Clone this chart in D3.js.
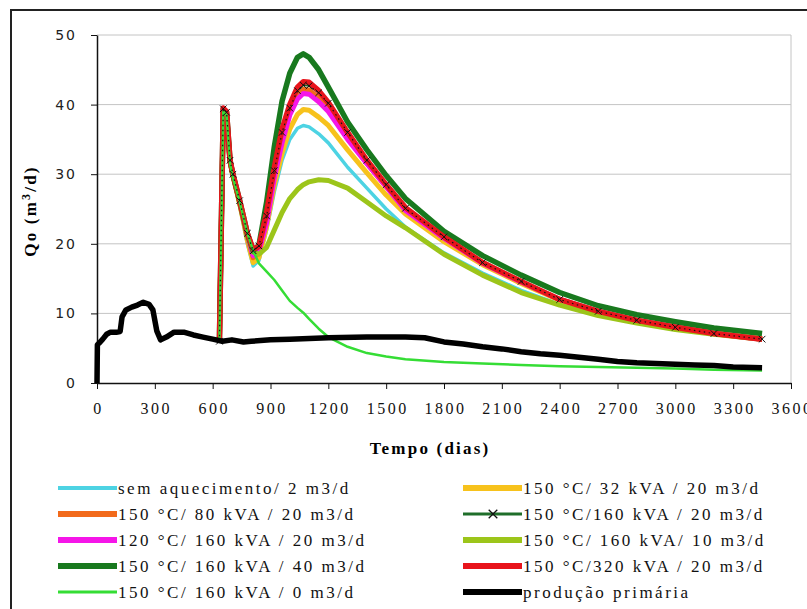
<!DOCTYPE html>
<html>
<head>
<meta charset="utf-8">
<script src="https://cdn.jsdelivr.net/npm/d3@7"></script>
<style>
  body { margin: 0; background: #fff; }
  svg { display: block; }
</style>
</head>
<body>
<svg id="chart" width="807" height="609"></svg>
<script>
// days for the primary production curve
const primaryDays = [0, 2, 10, 30, 50, 70, 100, 120, 130, 150, 180, 210, 240, 270, 290, 310, 330, 360, 400, 450,
  500, 550, 600, 650, 700, 760, 800, 900, 1000, 1100, 1200, 1400, 1600, 1700, 1800, 1900, 2000, 2100, 2200, 2300,
  2400, 2500, 2600, 2700, 2800, 2900, 3000, 3100, 3200, 3300, 3450];
const primaryValues = [0, 5.5, 5.7, 6.3, 7.0, 7.3, 7.3, 7.4, 9.5, 10.5, 10.9, 11.2, 11.6, 11.3, 10.5, 7.5, 6.2, 6.6, 7.3, 7.3,
  6.9, 6.6, 6.3, 6.0, 6.2, 5.9, 6.0, 6.2, 6.3, 6.4, 6.5, 6.6, 6.6, 6.5, 5.9, 5.6, 5.2, 4.9, 4.5, 4.2,
  4.0, 3.7, 3.4, 3.1, 2.9, 2.8, 2.7, 2.6, 2.5, 2.3, 2.2];

// days for the heated cases (start of heating at ~640 d)
const heatDays = [635, 655, 672, 690, 705, 740, 780, 810, 840, 880,
  920, 960, 1000, 1040, 1070, 1100, 1150, 1200, 1300, 1400,
  1500, 1600, 1800, 2000, 2200, 2400, 2600, 2800, 3000, 3200, 3450];

const semAquecimento = [6, 39, 38.5, 31.5, 29.5, 25.5, 20, 16.8, 17.6, 22,
  27.5, 32, 35, 36.6, 37, 36.8, 35.8, 34.5, 31, 28,
  25, 22.4, 18.7, 15.8, 13.3, 11.3, 9.8, 8.7, 7.8, 7, 6.3];
const kva32 = [6, 39.2, 38.7, 31.8, 29.8, 25.8, 20.5, 17.3, 18, 22.5,
  28.5, 33, 36.5, 38.6, 39.3, 39.2, 38.2, 37, 33.5, 30.2,
  27, 24.3, 20.3, 17, 14.3, 11.9, 10.2, 9, 8, 7.2, 6.4];
const kva80 = [6, 39.4, 38.9, 32, 30, 26, 21, 18, 18.8, 23.5,
  30, 35, 39, 41.5, 42.2, 42.1, 41, 39.5, 35.5, 31.6,
  28.2, 25, 20.8, 17.3, 14.5, 12, 10.3, 9, 8, 7.1, 6.3];
const kva160 = [6, 39.4, 38.9, 32, 30, 26.2, 21.5, 19, 19.7, 24,
  30.5, 36, 39.5, 42, 42.8, 42.7, 41.7, 40.2, 36, 32,
  28.5, 25.1, 21, 17.3, 14.6, 12, 10.3, 9, 8, 7.1, 6.3];
const t120 = [6, 39.3, 38.8, 32, 30, 26, 21, 18.3, 19, 23,
  29.5, 34.5, 38.5, 40.8, 41.6, 41.5, 40.4, 39, 35, 31.5,
  28.2, 24.8, 20.8, 17.2, 14.5, 12, 10.3, 9, 8, 7.1, 6.3];
const vazao10 = [6, 39, 38.5, 31.8, 29.8, 25.8, 21, 18.8, 18.5, 19.5,
  22, 24.5, 26.5, 27.8, 28.5, 28.9, 29.2, 29.1, 28, 26,
  24, 22.3, 18.5, 15.5, 13, 11.2, 9.7, 8.6, 7.7, 7, 6.3];
const vazao40 = [6, 39.4, 38.9, 32, 30, 26.2, 21.5, 19, 19.8, 26,
  34, 40.5, 44.5, 46.8, 47.3, 46.8, 45, 42.5, 37.5, 33.5,
  29.8, 26.5, 21.8, 18.3, 15.5, 13, 11.1, 9.8, 8.8, 7.9, 7.1];
const kva320 = [6, 39.5, 39, 32, 30, 26.2, 21.5, 19.2, 19.6, 24.5,
  31, 36.5, 40, 42.5, 43.3, 43.2, 42, 40.3, 36, 32,
  28.5, 25.2, 21, 17.3, 14.6, 12, 10.3, 9, 8, 7.1, 6.3];
const vazao0 = [6, 39, 38.5, 31.5, 29.5, 26, 21.5, 19, 17.2, 16,
  14.8, 13.3, 11.8, 10.8, 10.1, 9.2, 7.8, 6.6, 5.2, 4.3,
  3.8, 3.4, 3, 2.8, 2.6, 2.4, 2.3, 2.2, 2.1, 1.9, 1.8];

const xTicks = d3.range(0, 3601, 300);
const yTicks = [0, 10, 20, 30, 40, 50];

// series in legend order (row by row, left then right)
const series = [
  {name: 'sem aquecimento/ 2 m3/d', days: heatDays, values: semAquecimento, color: '#4dd3e3', width: 3.5, lw: 4},
  {name: '150 °C/ 32 kVA / 20 m3/d', days: heatDays, values: kva32, color: '#f7c21c', width: 5, lw: 6},
  {name: '150 °C/ 80 kVA / 20 m3/d', days: heatDays, values: kva80, color: '#f26a1b', width: 5, lw: 6},
  {name: '150 °C/160 kVA / 20 m3/d', days: heatDays, values: kva160, color: '#1f6e2a', width: 2, lw: 3, marker: true},
  {name: '120 °C/ 160 kVA / 20 m3/d', days: heatDays, values: t120, color: '#f516e8', width: 5, lw: 6},
  {name: '150 °C/ 160 kVA/ 10 m3/d', days: heatDays, values: vazao10, color: '#9cc51a', width: 5, lw: 6},
  {name: '150 °C/ 160 kVA / 40 m3/d', days: heatDays, values: vazao40, color: '#18791e', width: 5.5, lw: 6},
  {name: '150 °C/320 kVA / 20 m3/d', days: heatDays, values: kva320, color: '#e8141b', width: 5.5, lw: 6},
  {name: '150 °C/ 160 kVA / 0 m3/d', days: heatDays, values: vazao0, color: '#35dd35', width: 2.5, lw: 3},
  {name: 'produção primária', days: primaryDays, values: primaryValues, color: '#000', width: 5.5, lw: 6}
];

const serif = '"Liberation Serif", "Times New Roman", serif';

const svg = d3.select('#chart');

const x = d3.scaleLinear().domain([0, 3600]).range([97, 791]);
const y = d3.scaleLinear().domain([0, 50]).range([383, 35]);

// outer chart frame
svg.append('rect')
    .attr('x', 11).attr('y', 10)
    .attr('width', 830).attr('height', 640)
    .attr('fill', 'none')
    .attr('stroke', '#222')
    .attr('stroke-width', 2);

// plot area grid + right border
svg.append('g')
  .selectAll('line')
  .data(yTicks.slice(1))
  .join('line')
    .attr('x1', x(0)).attr('x2', x(3600))
    .attr('y1', d => y(d)).attr('y2', d => y(d))
    .attr('stroke', '#c4c4c4');

svg.append('line')
    .attr('x1', x(3600)).attr('x2', x(3600))
    .attr('y1', y(50)).attr('y2', y(0))
    .attr('stroke', '#c4c4c4');

// axes
const xAxis = svg.append('g')
    .attr('transform', `translate(0,${y(0)})`)
    .call(d3.axisBottom(x).tickValues(xTicks).tickFormat(d3.format('d'))
      .tickSize(6).tickSizeOuter(0).tickPadding(14));

const yAxis = svg.append('g')
    .attr('transform', `translate(${x(0)},0)`)
    .call(d3.axisLeft(y).tickValues(yTicks).tickSize(6).tickSizeOuter(0).tickPadding(14));

[xAxis, yAxis].forEach(g => {
  g.select('.domain').attr('stroke', '#111').attr('stroke-width', 1.5);
  g.selectAll('.tick line').attr('stroke', '#111');
});

xAxis.selectAll('.tick text')
    .attr('font-family', serif)
    .attr('font-size', 16)
    .attr('letter-spacing', 2.5)
    .attr('dx', 1)
    .attr('fill', '#111');

yAxis.selectAll('.tick text')
    .attr('font-family', 'DejaVu Sans, sans-serif')
    .attr('font-size', 14)
    .attr('letter-spacing', 2)
    .attr('fill', '#222');

// axis titles
svg.append('text')
    .attr('x', 430).attr('y', 454)
    .attr('text-anchor', 'middle')
    .attr('font-family', serif)
    .attr('font-weight', 'bold')
    .attr('font-size', 17)
    .attr('letter-spacing', 2.2)
    .text('Tempo (dias)');

const yTitle = svg.append('text')
    .attr('transform', 'translate(36,211) rotate(-90)')
    .attr('text-anchor', 'middle')
    .attr('font-family', serif)
    .attr('font-weight', 'bold')
    .attr('font-size', 17)
    .attr('letter-spacing', 2.2);
yTitle.append('tspan').text('Qo (m');
yTitle.append('tspan').attr('dy', -6).attr('font-size', 12).text('3');
yTitle.append('tspan').attr('dy', 6).text('/d)');

// lines
const line = d3.line()
    .x(d => x(d[0]))
    .y(d => y(d[1]));

const plot = svg.append('g');

series.slice(0, 9).forEach(s => {
  plot.append('path')
      .datum(d3.zip(s.days, s.values))
      .attr('fill', 'none')
      .attr('stroke', s.color)
      .attr('stroke-width', s.width)
      .attr('stroke-linejoin', 'round')
      .attr('d', line);
});

// markers for the 160 kVA / 20 m3/d case
const marked = series[3];
const markPts = d3.zip(marked.days, marked.values);
plot.append('path')
    .datum(markPts)
    .attr('fill', 'none')
    .attr('stroke', '#111')
    .attr('stroke-width', 1.2)
    .attr('stroke-dasharray', '1.5 3.5')
    .attr('d', line);

const cross = d3.symbol().type(d3.symbolX).size(30);
plot.selectAll('.mk')
  .data(markPts)
  .join('path')
    .attr('class', 'mk')
    .attr('transform', d => `translate(${x(d[0])},${y(d[1])})`)
    .attr('d', cross)
    .attr('fill', 'none')
    .attr('stroke', '#111')
    .attr('stroke-width', 1);

// primary production on top
const prim = series[9];
plot.append('path')
    .datum(d3.zip(prim.days, prim.values))
    .attr('fill', 'none')
    .attr('stroke', prim.color)
    .attr('stroke-width', prim.width)
    .attr('stroke-linejoin', 'round')
    .attr('d', line);

// legend
const legend = svg.append('g');
const item = legend.selectAll('g')
  .data(series)
  .join('g')
    .attr('transform', (d, i) => {
      const col = i % 2;
      const row = Math.floor(i / 2);
      return `translate(${col ? 463 : 58},${488 + row * 26})`;
    });

item.append('line')
    .attr('x1', 0).attr('x2', 59)
    .attr('stroke', d => d.color)
    .attr('stroke-width', d => d.lw);

item.filter(d => d.marker)
  .append('path')
    .attr('transform', 'translate(30,0)')
    .attr('d', d3.symbol().type(d3.symbolX).size(50))
    .attr('fill', 'none')
    .attr('stroke', '#111')
    .attr('stroke-width', 1.3);

item.append('text')
    .attr('x', 60)
    .attr('y', 6)
    .attr('font-family', serif)
    .attr('font-size', 17)
    .attr('letter-spacing', 2.5)
    .attr('fill', '#111')
    .text(d => d.name);
</script>
</body>
</html>
